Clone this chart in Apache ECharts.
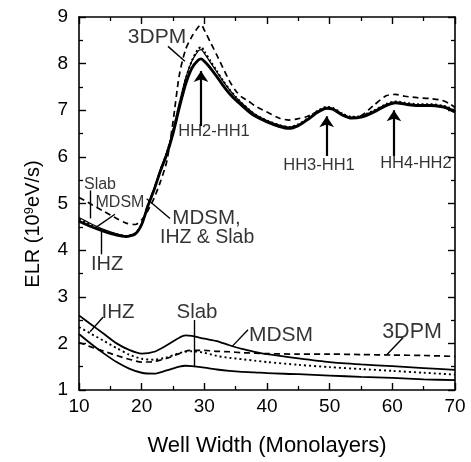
<!DOCTYPE html>
<html>
<head>
<meta charset="utf-8">
<script src="https://cdn.jsdelivr.net/npm/echarts@6/dist/echarts.min.js"></script>
<style>html,body{margin:0;padding:0;background:#fff;}#c{width:471px;height:462px;}</style>
</head>
<body>
<div id="c"></div>
<script>
// ---------- data ----------
const xTicks = [10, 20, 30, 40, 50, 60, 70];
const yTicks = [1, 2, 3, 4, 5, 6, 7, 8, 9];

const wellWidthUpper = [10,12,14,16,17.5,19,20,21,22,23,24,25,26,27,28,29,29.5,30,31,32,33,34,35,36,37,38,40,42,43.5,45,46.5,48,49.5,50.5,52,53.5,55,57,59,60.5,62,64,66,68,69,70];
const ihzUpper  = [4.62,4.5,4.4,4.32,4.29,4.35,4.55,4.95,5.3,5.7,6.05,6.5,7.05,7.55,7.9,8.07,8.1,8.05,7.9,7.72,7.53,7.36,7.22,7.1,6.98,6.88,6.75,6.65,6.61,6.67,6.8,6.95,7.04,7.02,6.9,6.83,6.85,6.96,7.1,7.16,7.13,7.1,7.1,7.07,7.03,6.96];
const slabUpper = [4.7,4.56,4.44,4.35,4.31,4.37,4.57,4.97,5.33,5.73,6.1,6.58,7.15,7.68,8.05,8.27,8.3,8.22,8.02,7.82,7.62,7.44,7.28,7.15,7.03,6.92,6.78,6.68,6.64,6.69,6.82,6.97,7.06,7.04,6.92,6.85,6.87,6.98,7.12,7.18,7.15,7.12,7.12,7.09,7.05,6.98];
const mdsmUpper = [4.66,4.53,4.42,4.34,4.3,4.36,4.56,4.96,5.31,5.72,6.08,6.55,7.12,7.66,8.06,8.31,8.36,8.26,8.05,7.84,7.63,7.45,7.29,7.15,7.03,6.92,6.78,6.68,6.64,6.7,6.83,6.98,7.07,7.05,6.93,6.86,6.88,6.99,7.13,7.19,7.16,7.13,7.13,7.1,7.06,6.99];
const dpmUpper  = [5.13,4.98,4.83,4.68,4.58,4.55,4.65,4.85,5.12,5.47,5.9,6.75,7.75,8.3,8.58,8.78,8.83,8.72,8.45,8.18,7.9,7.63,7.42,7.28,7.2,7.1,6.96,6.83,6.79,6.82,6.87,6.97,7.04,7.03,6.9,6.84,6.88,7.1,7.31,7.34,7.3,7.27,7.25,7.21,7.15,7.06];

const wellWidthLower = [10,12,14,16,18,20,22,24,26,27,28,30,32,34,36,38,40,45,50,55,60,65,70];
const mdsmLower = [2.6,2.4,2.2,2.0,1.86,1.78,1.82,1.96,2.12,2.17,2.16,2.1,2.05,1.96,1.88,1.82,1.77,1.68,1.6,1.55,1.51,1.47,1.43];
const ihzLower  = [2.35,2.2,2.05,1.9,1.76,1.67,1.65,1.7,1.79,1.82,1.83,1.8,1.73,1.69,1.66,1.63,1.6,1.54,1.49,1.45,1.41,1.37,1.33];
const dpmLower  = [2.02,1.92,1.83,1.74,1.66,1.6,1.61,1.68,1.78,1.83,1.85,1.85,1.83,1.82,1.8,1.79,1.78,1.77,1.77,1.76,1.75,1.74,1.72];
const slabLower = [2.2,1.98,1.78,1.6,1.46,1.37,1.35,1.42,1.5,1.52,1.51,1.48,1.44,1.41,1.39,1.38,1.36,1.34,1.31,1.28,1.26,1.23,1.21];

// annotation texts (positions in data units)
const noteText = ['3DPM','HH2-HH1','HH3-HH1','HH4-HH2','Slab','MDSM','IHZ','MDSM,','IHZ & Slab','IHZ','Slab','MDSM','3DPM'];
const noteX    = [22.45, 31.54, 48.3, 63.77, 13.35, 16.54, 14.47, 24.9, 22.92, 16.22, 28.83, 42.23, 63.14];
const noteY    = [8.56, 6.55, 5.81, 5.85, 5.41, 5.01, 3.70, 4.69, 4.27, 2.67, 2.67, 2.18, 2.25];

// pointer lines [x1,y1,x2,y2]
const pointerX1 = [24.2, 11.78, 15.74, 13.62, 20.8, 13.83, 28.35, 36.97, 61.70];
const pointerY1 = [8.37, 5.28, 4.77, 4.40, 5.10, 2.56, 2.50, 2.29, 2.12];
const pointerX2 = [26.9, 11.78, 12.82, 13.62, 24.52, 11.76, 28.35, 34.41, 59.15];
const pointerY2 = [8.05, 4.68, 4.50, 3.91, 4.68, 2.25, 1.49, 1.93, 1.76];

// arrows (from bottom up to peak)
const arrowX  = [29.47, 49.52, 60.26];
const arrowY1 = [6.66, 6.02, 6.02];
const arrowY2 = [7.84, 6.87, 7.00];

// ---------- chart ----------
const FONT = '"Liberation Sans", Arial, Helvetica, sans-serif';
const zip = (xs, ys) => xs.map((x, i) => [x, ys[i]]);

function curve(name, xs, ys, type, width) {
  return {
    name, type: 'line', data: zip(xs, ys), showSymbol: false, smooth: 0.25,
    lineStyle: { color: '#000', width: width, type: type, cap: 'butt' },
    silent: true, z: 3
  };
}

const noteSizes = [21, 16.5, 16.5, 16.5, 16, 16, 20, 20.5, 19.5, 20.5, 20.5, 21, 21.5];
const noteAlign = ['center','center','center','center','center','center','center','left','left','center','center','center','center'];

const notes = noteText.map((t, i) => ({
  value: [noteX[i], noteY[i]],
  label: {
    show: true, formatter: t, position: 'inside', color: '#000',
    fontFamily: FONT, fontSize: noteSizes[i], align: noteAlign[i], verticalAlign: 'middle'
  }
}));

const pointerData = pointerX1.map((x, i) => [
  { coord: [x, pointerY1[i]] }, { coord: [pointerX2[i], pointerY2[i]] }
]);
const arrowData = arrowX.map((x, i) => [
  { coord: [x, arrowY1[i]], symbol: 'none' }, { coord: [x, arrowY2[i]], symbol: 'arrow', symbolSize: 11 }
]);

const axisCommonX = {
  type: 'value', min: 10, max: 70, interval: 10,
  axisLine: { show: true, onZero: false, lineStyle: { color: '#000', width: 1.6 } },
  axisTick: { show: true, inside: true, length: 7, lineStyle: { color: '#000', width: 1.4 } },
  minorTick: { show: true, splitNumber: 2, length: 4, lineStyle: { color: '#000', width: 1.3 } },
  splitLine: { show: false }
};
const axisCommonY = {
  type: 'value', min: 1, max: 9, interval: 1,
  axisLine: { show: true, onZero: false, lineStyle: { color: '#000', width: 1.6 } },
  axisTick: { show: true, inside: true, length: 7, lineStyle: { color: '#000', width: 1.4 } },
  minorTick: { show: true, splitNumber: 2, length: 4, lineStyle: { color: '#000', width: 1.3 } },
  splitLine: { show: false }
};

const chart = echarts.init(document.getElementById('c'), null, { renderer: 'canvas' });
chart.setOption({
  animation: false,
  backgroundColor: '#fff',
  grid: { left: 79, right: 16, top: 17, bottom: 66 },
  xAxis: [
    Object.assign({}, axisCommonX, {
      position: 'bottom',
      name: 'Well Width (Monolayers)', nameLocation: 'middle', nameGap: 45,
      nameTextStyle: { color: '#000', fontFamily: FONT, fontSize: 22 },
      axisLabel: { show: true, color: '#000', fontFamily: FONT, fontSize: 19, margin: 7,
        formatter: v => xTicks.indexOf(v) >= 0 ? String(v) : '' }
    }),
    Object.assign({}, axisCommonX, { position: 'top', axisLabel: { show: false } })
  ],
  yAxis: [
    Object.assign({}, axisCommonY, {
      position: 'left',
      axisLabel: { show: true, color: '#000', fontFamily: FONT, fontSize: 19, margin: 11,
        formatter: v => yTicks.indexOf(v) >= 0 ? String(v) : '' }
    }),
    Object.assign({}, axisCommonY, { position: 'right', axisLabel: { show: false } })
  ],
  graphic: [{
    type: 'text', x: 33, y: 224, rotation: Math.PI / 2, silent: true,
    style: {
      text: '{a|ELR (10}{s|9}{a|eV/s)}',
      rich: {
        a: { fontFamily: FONT, fontSize: 20, fill: '#000' },
        s: { fontFamily: FONT, fontSize: 13, fill: '#000', verticalAlign: 'top', padding: [0,0,8,0] }
      },
      align: 'center', verticalAlign: 'middle'
    }
  }],
  series: [
    curve('3DPM upper', wellWidthUpper, dpmUpper, [6, 4], 1.7),
    curve('MDSM upper', wellWidthUpper, mdsmUpper, [2, 2.5], 2),
    curve('Slab upper', wellWidthUpper, slabUpper, 'solid', 1.2),
    curve('IHZ upper', wellWidthUpper, ihzUpper, 'solid', 2.8),
    curve('MDSM lower', wellWidthLower, mdsmLower, 'solid', 1.8),
    curve('IHZ lower', wellWidthLower, ihzLower, [2, 3], 1.9),
    curve('3DPM lower', wellWidthLower, dpmLower, [6, 4], 1.7),
    curve('Slab lower', wellWidthLower, slabLower, 'solid', 1.8),
    {
      name: 'notes', type: 'scatter', data: notes, symbolSize: 0, silent: true, z: 5,
      markLine: {
        silent: true, symbol: 'none', animation: false,
        label: { show: false },
        lineStyle: { color: '#000', width: 1.4, type: 'solid' },
        data: pointerData
      }
    },
    {
      name: 'arrows', type: 'line', data: [], silent: true,
      markLine: {
        silent: true, symbol: ['none', 'arrow'], symbolSize: 11, animation: false,
        label: { show: false },
        itemStyle: { color: '#000' },
        lineStyle: { color: '#000', width: 2.2, type: 'solid' },
        data: arrowData
      }
    }
  ]
});
</script>
</body>
</html>
